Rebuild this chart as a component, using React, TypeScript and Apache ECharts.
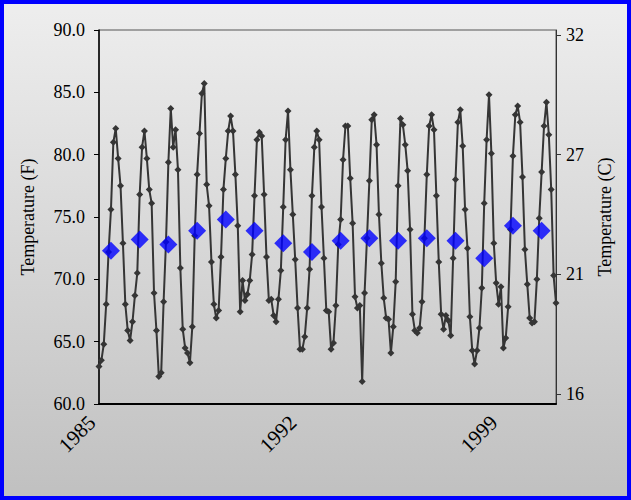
import React, { useEffect, useRef } from "react";
import * as echarts from "echarts";

// ---- data ----
const startYear = 1985;

// Monthly temperatures (°F), 16 years x 12 months, 1985 .. 2000
const monthlyTempF = [
  // 1985
  63.0, 63.5, 64.8, 68.0, 72.2, 75.6, 81.0, 82.1, 79.7, 77.5, 72.9, 68.0,
  // 1986
  65.9, 65.1, 66.6, 68.7, 70.5, 76.8, 80.6, 81.9, 79.7, 77.2, 76.1, 68.9,
  // 1987
  65.9, 62.2, 62.5, 68.2, 73.0, 79.4, 83.7, 80.6, 82.0, 78.8, 70.9, 66.0,
  // 1988
  64.5, 64.1, 63.3, 66.2, 73.5, 78.4, 81.7, 84.9, 85.7, 77.6, 75.9, 71.4,
  // 1989
  68.0, 66.9, 67.5, 71.8, 77.2, 79.7, 81.9, 83.1, 81.9, 78.4, 74.3, 67.4,
  // 1990
  69.9, 68.3, 68.8, 69.9, 72.0, 76.7, 81.2, 81.8, 81.5, 76.8, 71.8, 68.3,
  // 1991
  68.4, 67.1, 66.6, 68.4, 70.7, 75.8, 81.2, 83.5, 78.8, 75.2, 71.6, 67.7,
  // 1992
  64.4, 64.4, 65.4, 67.7, 70.8, 76.7, 80.6, 81.9, 81.2, 75.8, 71.7, 67.5,
  // 1993
  67.4, 64.4, 64.9, 67.9, 72.8, 74.8, 79.6, 82.3, 82.3, 78.1, 74.5, 68.6,
  // 1994
  67.7, 67.9, 61.8, 68.9, 73.3, 77.9, 82.8, 83.2, 80.8, 75.2, 71.3, 68.5,
  // 1995
  66.9, 66.8, 64.1, 66.2, 69.8, 77.5, 82.9, 82.4, 80.8, 78.7, 74.0, 67.2,
  // 1996
  65.9, 65.7, 66.1, 68.2, 73.3, 78.4, 82.3, 83.2, 82.0, 76.7, 71.4, 67.2,
  // 1997
  66.0, 67.1, 66.7, 65.5, 71.7, 78.0, 82.6, 83.6, 80.7, 75.6, 72.5, 67.0,
  // 1998
  64.3, 63.2, 64.3, 66.1, 69.3, 76.1, 81.2, 84.8, 80.1, 72.9, 69.7, 68.0,
  // 1999
  69.4, 64.5, 65.3, 67.8, 74.0, 79.9, 83.2, 83.9, 82.6, 78.2, 72.4, 69.6,
  // 2000
  66.9, 66.5, 66.6, 70.0, 74.9, 78.6, 82.3, 84.2, 81.6, 77.2, 70.3, 68.1,
];

// Annual mean temperatures (°F), 1985 .. 2000
const annualMeanF = [
  72.3, 73.2, 72.8, 73.9, 74.8, 73.9, 72.9, 72.2,
  73.1, 73.3, 73.1, 73.3, 73.1, 71.7, 74.3, 73.9,
];

// x-axis tick labels (years)
const xTickYears = [1985, 1992, 1999];

// right axis (°C) tick values
const celsiusTicks = [16, 64 / 3, 80 / 3, 32];

const fMin = 60;
const fMax = 90;
const fStep = 5;

const FONT = "Liberation Serif, Times New Roman, serif";
const FS = 18;

export default function App() {
  const ref = useRef<HTMLDivElement>(null);

  useEffect(() => {
    document.body.style.margin = "0";
    const chart = echarts.init(ref.current!, null, { renderer: "svg" });

    const monthlyPoints = monthlyTempF.map((v, i) => [i, v]);
    const annualPoints = annualMeanF.map((v, k) => [k * 12 + 5, v]);
    const xTickPositions = xTickYears.map((y) => (y - startYear) * 12);
    const toC = (f: number) => ((f - 32) * 5) / 9;

    const option: any = {
      animation: false,
      backgroundColor: {
        type: "linear",
        x: 0,
        y: 0,
        x2: 0,
        y2: 1,
        colorStops: [
          { offset: 0, color: "#eeeeee" },
          { offset: 1, color: "#c0c0c0" },
        ],
      },
      textStyle: { fontFamily: FONT },
      grid: {
        left: 99,
        right: 75,
        top: 30,
        bottom: 96,
        show: true,
        borderColor: "#555555",
        borderWidth: 1,
        backgroundColor: "transparent",
      },
      xAxis: {
        type: "value",
        min: 0,
        max: monthlyTempF.length - 1,
        splitLine: { show: false },
        axisLine: { show: true, onZero: false, lineStyle: { color: "#000", width: 2 } },
        axisTick: { show: false },
        axisLabel: {
          customValues: xTickPositions,
          rotate: 45,
          margin: 8,
          padding: [0, 10, 0, 0],
          fontSize: 21,
          fontFamily: FONT,
          color: "#000",
          formatter: (v: number) => String(startYear + Math.round(v / 12)),
        },
      },
      yAxis: [
        {
          type: "value",
          min: fMin,
          max: fMax,
          interval: fStep,
          position: "left",
          name: "Temperature (F)",
          nameLocation: "middle",
          nameRotate: 90,
          nameGap: 62,
          nameTextStyle: { fontSize: FS, fontFamily: FONT, color: "#000" },
          splitLine: { show: false },
          axisLine: { show: true, onZero: false, lineStyle: { color: "#000", width: 1.5 } },
          axisTick: { show: true, inside: false, length: 5, lineStyle: { color: "#000" } },
          axisLabel: {
            margin: 14,
            fontSize: FS,
            fontFamily: FONT,
            color: "#000",
            formatter: (v: number) => v.toFixed(1),
          },
        },
        {
          type: "value",
          min: toC(fMin),
          max: toC(fMax),
          position: "right",
          name: "Temperature (C)",
          nameLocation: "middle",
          nameRotate: 90,
          nameGap: 40,
          nameTextStyle: { fontSize: FS, fontFamily: FONT, color: "#000" },
          splitLine: { show: false },
          axisLine: { show: true, onZero: false, lineStyle: { color: "#333", width: 1 } },
          axisTick: {
            show: true,
            inside: false,
            length: 5,
            customValues: celsiusTicks,
            lineStyle: { color: "#333" },
          },
          axisLabel: {
            customValues: celsiusTicks,
            margin: 10,
            fontSize: FS,
            fontFamily: FONT,
            color: "#000",
            formatter: (v: number) => String(Math.round(v)),
          },
        },
      ],
      series: [
        {
          name: "Monthly",
          type: "line",
          yAxisIndex: 0,
          data: monthlyPoints,
          symbol: "diamond",
          symbolSize: 7,
          showAllSymbol: true,
          lineStyle: { color: "#353535", width: 2 },
          itemStyle: { color: "#353535" },
          z: 2,
        },
        {
          name: "Annual",
          type: "scatter",
          yAxisIndex: 0,
          data: annualPoints,
          symbol: "diamond",
          symbolSize: 18,
          itemStyle: { color: "#0000ff" },
          z: 3,
        },
      ],
      graphic: [
        {
          type: "rect",
          z: 100,
          silent: true,
          shape: { x: 2, y: 2, width: 627, height: 496 },
          style: { fill: "none", stroke: "#0000ff", lineWidth: 4 },
        },
      ],
    };

    chart.setOption(option);
    return () => chart.dispose();
  }, []);

  return (
    <div
      ref={ref}
      style={{ position: "absolute", left: 0, top: 0, width: 631, height: 500 }}
    />
  );
}
